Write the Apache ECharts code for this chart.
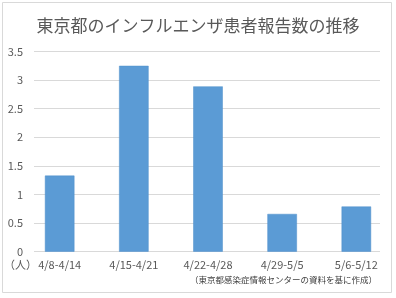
<!DOCTYPE html>
<html><head><meta charset="utf-8">
<script src="https://cdn.jsdelivr.net/npm/echarts@6/dist/echarts.min.js"></script>
<style>html,body{margin:0;padding:0;background:#fff}#c{width:396px;height:298px}</style>
</head><body><div id="c"></div>
<script>
const title = '東京都のインフルエンザ患者報告数の推移';
const categories = ['4/8-4/14', '4/15-4/21', '4/22-4/28', '4/29-5/5', '5/6-5/12'];
const values = [1.33, 3.25, 2.89, 0.66, 0.79];
const yTicks = [0, 0.5, 1, 1.5, 2, 2.5, 3, 3.5];
const unitLabel = '（人）';
const sourceNote = '（東京都感染症情報センターの資料を基に作成）';

const font = '"Noto Sans CJK JP", "Noto Sans", sans-serif';
const chart = echarts.init(document.getElementById('c'), null, {renderer: 'canvas'});
chart.setOption({
  animation: false,
  backgroundColor: '#fff',
  title: {text: title, left: 'center', top: 12, textStyle: {fontFamily: font, fontSize: 17, fontWeight: 'normal', color: '#595959'}},
  grid: [
    {left: 34, top: 51.5, width: 346, height: 200.2},
    {left: 22.6, top: 51.5, width: 370.8, height: 200.2}
  ],
  xAxis: [
    {gridIndex: 0, type: 'category', data: categories, show: false},
    {gridIndex: 1, type: 'category', data: categories,
      axisLine: {show: false}, axisTick: {show: false},
      axisLabel: {margin: 8, fontFamily: font, fontSize: 11, color: '#595959'}}
  ],
  yAxis: [
    {gridIndex: 0, type: 'value', min: yTicks[0], max: yTicks[yTicks.length - 1], interval: 0.5,
      axisLine: {show: false}, axisTick: {show: false},
      axisLabel: {margin: 11, fontFamily: font, fontSize: 11, color: '#595959'},
      splitLine: {lineStyle: {color: '#d9d9d9', width: 1}}},
    {gridIndex: 1, type: 'value', min: yTicks[0], max: yTicks[yTicks.length - 1], interval: 0.5, show: false}
  ],
  series: [{
    type: 'bar', xAxisIndex: 1, yAxisIndex: 1, data: values, barWidth: 29.5,
    itemStyle: {color: '#5b9bd5', borderColor: '#4f8fcb', borderWidth: 0.5}
  }],
  graphic: [
    {type: 'rect', shape: {x: 2.5, y: 2.5, width: 389, height: 290}, style: {fill: 'none', stroke: '#d9d9d9', lineWidth: 1}, silent: true},
    {type: 'text', left: 4, top: 259, style: {text: unitLabel, fontFamily: font, fontSize: 11, fill: '#595959'}},
    {type: 'text', right: 19, top: 276, style: {text: sourceNote, fontFamily: font, fontSize: 8.5, fill: '#404040'}}
  ]
});
</script></body></html>
